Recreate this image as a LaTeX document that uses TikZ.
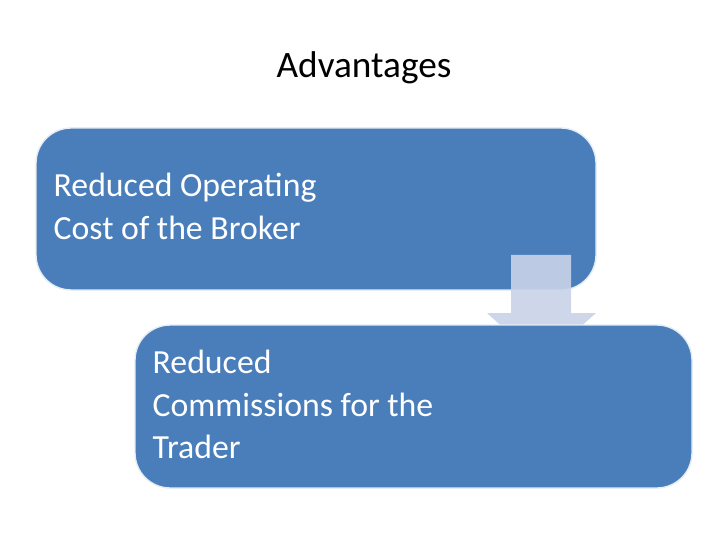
\documentclass[tikz,border=0pt]{standalone}
\usepackage{fontspec}
\setmainfont{Carlito}
\definecolor{boxblue}{HTML}{4A7EBB}
\definecolor{arrowpale}{HTML}{C9D3E8}
\begin{document}
\begin{tikzpicture}[
  x = 0.01cm,
  y = -0.01cm,
  item/.style = {
    fill = boxblue,
    draw = white!85!boxblue,
    rounded corners = 10,
  },
  label/.style = {
    anchor = north west,
    align = left,
    text = white,
    inner sep = 0pt,
    font = \fontsize{9.6pt}{12.2pt}\selectfont,
  }
]
  \useasboundingbox (0, 0) rectangle (728, 546);
  \node[font = \fontsize{10.6pt}{12pt}\selectfont] (title) at (364, 68) {Advantages};

  \draw[item] (36, 128) rectangle (596, 290);
  \node[label] (broker) at (53, 172) {Reduced Operating\\Cost of the Broker};

  \fill[arrowpale, opacity = 0.9] (511, 255) -- (571, 255) -- (571, 313)
    -- (596, 313) -- (541, 362) -- (487, 313) -- (511, 313) -- cycle;

  \draw[item] (135, 325) rectangle (692, 488);
  \node[label] (trader) at (152, 349) {Reduced\\Commissions for the\\Trader};
\end{tikzpicture}
\end{document}
